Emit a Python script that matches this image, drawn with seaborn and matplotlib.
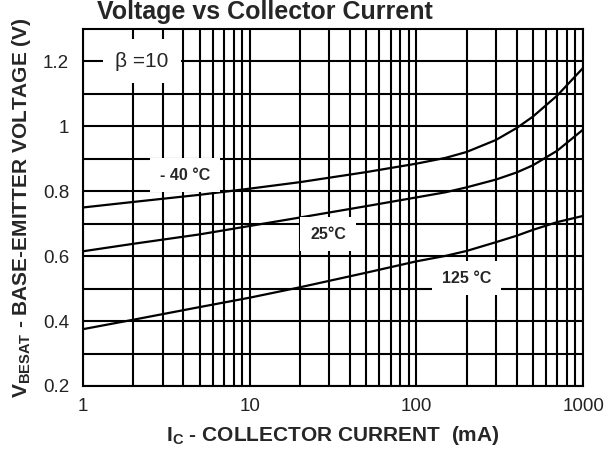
import numpy as np
import pandas as pd
import matplotlib
matplotlib.use("Agg")
import matplotlib.pyplot as plt
from matplotlib.ticker import FixedLocator, NullFormatter
import seaborn as sns

# collector current (mA) and V_BE(sat) readings for each temperature
ic_ma = [1, 2, 5, 10, 20, 50, 100, 150, 200, 300, 400, 500, 700, 1000]
vbe_m40 = [0.750, 0.767, 0.789, 0.808, 0.828, 0.859, 0.885, 0.903, 0.921, 0.958, 0.995, 1.030, 1.095, 1.180]
vbe_25 = [0.615, 0.638, 0.667, 0.693, 0.719, 0.754, 0.781, 0.797, 0.812, 0.836, 0.858, 0.880, 0.925, 0.990]
vbe_125 = [0.375, 0.404, 0.443, 0.472, 0.504, 0.549, 0.584, 0.601, 0.616, 0.643, 0.663, 0.681, 0.705, 0.724]

x_ticks = [1, 10, 100, 1000]
x_ticklabels = ["1", "10", "100", "1000"]
y_ticks = [0.2, 0.4, 0.6, 0.8, 1.0, 1.2]
y_ticklabels = ["0.2", "0.4", "0.6", "0.8", "1", "1.2"]

curve_labels = ["- 40 °C", "25°C", "125 °C"]

df = pd.concat([
    pd.DataFrame({"ic": ic_ma, "vbe": vbe_m40, "temp": curve_labels[0]}),
    pd.DataFrame({"ic": ic_ma, "vbe": vbe_25, "temp": curve_labels[1]}),
    pd.DataFrame({"ic": ic_ma, "vbe": vbe_125, "temp": curve_labels[2]}),
])

sns.set_theme(style="white")
plt.rcParams["font.family"] = ["Liberation Sans", "DejaVu Sans"]
plt.rcParams["mathtext.fontset"] = "custom"
plt.rcParams["mathtext.rm"] = "Liberation Sans"
plt.rcParams["mathtext.bf"] = "Liberation Sans:bold"

fig = plt.figure(figsize=(6.08, 4.53), dpi=100)
ax = fig.add_axes([0.1365, 0.148, 0.8225, 0.788])

sns.lineplot(data=df, x="ic", y="vbe", hue="temp", palette=["black"] * 3,
             linewidth=1.6, legend=False, ax=ax, zorder=4)

ax.set_xscale("log")
ax.set_xlim(1, 1000)
ax.set_ylim(0.2, 1.3)

ax.xaxis.set_major_locator(FixedLocator(x_ticks))
ax.set_xticklabels(x_ticklabels)
ax.xaxis.set_minor_locator(FixedLocator([m * 10 ** d for d in range(3) for m in range(2, 10)]))
ax.xaxis.set_minor_formatter(NullFormatter())
ax.set_yticks(y_ticks)
ax.set_yticklabels(y_ticklabels)
ax.yaxis.set_minor_locator(FixedLocator([0.3, 0.5, 0.7, 0.9, 1.1]))

ax.grid(which="both", color="black", linewidth=1.5)
ax.set_axisbelow(True)
ax.tick_params(which="both", length=0, labelsize=13.5, colors="#222222")
ax.tick_params(axis="x", pad=9)
ax.tick_params(axis="y", pad=10)
for s in ax.spines.values():
    s.set_color("black")
    s.set_linewidth(1.5)

box = dict(boxstyle="square,pad=0.6", facecolor="white", edgecolor="none")
ax.text(2.26, 1.2, "β =10", fontsize=15, ha="center", va="center", bbox=box, zorder=5)
ax.text(4.1, 0.849, curve_labels[0], fontsize=11.5, fontweight="bold",
        ha="center", va="center", bbox=box, zorder=5)
ax.text(29.5, 0.668, curve_labels[1], fontsize=11.5, fontweight="bold",
        ha="center", va="center", bbox=box, zorder=5)
ax.text(200, 0.532, curve_labels[2], fontsize=11.5, fontweight="bold",
        ha="center", va="center", bbox=box, zorder=5)

ax.set_xlabel(r"I$_{\mathbf{C}}$ - COLLECTOR CURRENT  (mA)", fontsize=15,
              fontweight="bold", labelpad=6)
ax.set_ylabel(r"V$_{\mathbf{BESAT}}$ - BASE-EMITTER VOLTAGE (V)", fontsize=15,
              fontweight="bold", labelpad=6)
ax.yaxis.set_label_coords(-0.10, 0.5)

fig.text(0.436, 1 - 19 / 453, "Voltage vs Collector Current", fontsize=18,
         fontweight="bold", ha="center", va="baseline")

fig.savefig("out.png", dpi=100)
